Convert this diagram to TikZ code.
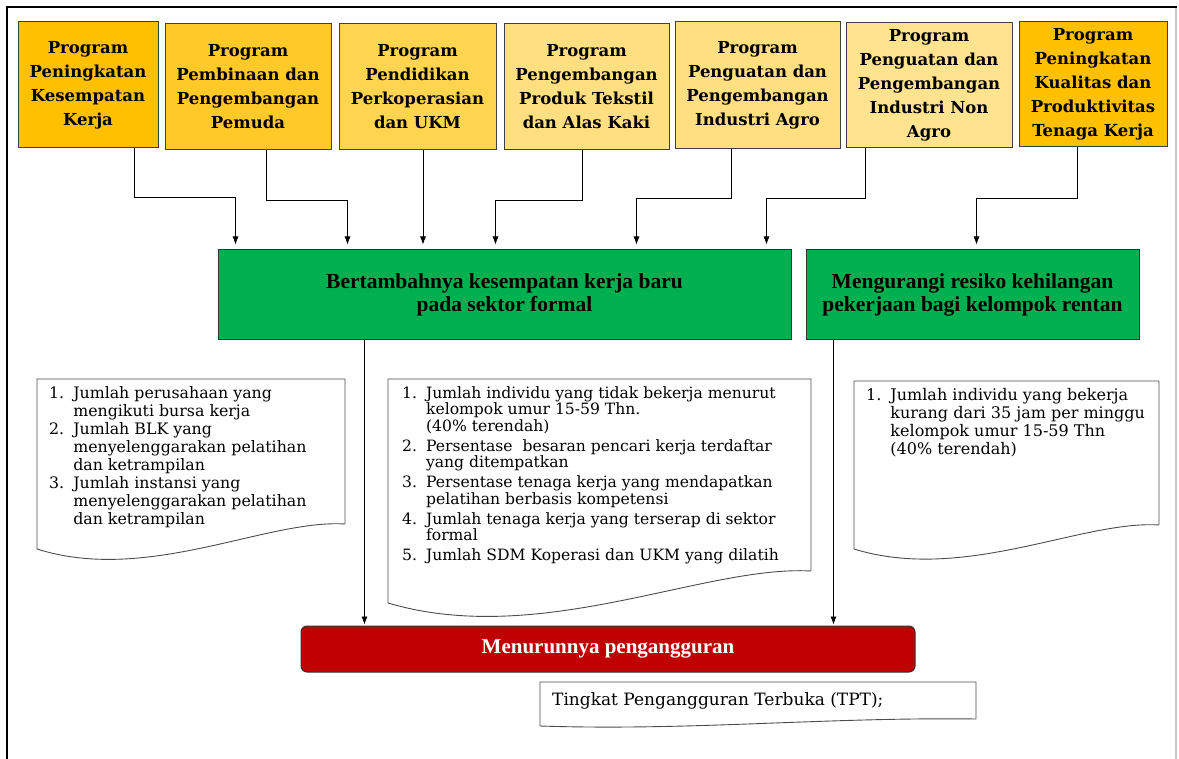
\documentclass[tikz,border=0pt]{standalone}
\usepackage{fontspec}
\setmainfont{DejaVu Serif}
\newfontfamily\goalfont{Liberation Serif}
\usetikzlibrary{arrows.meta,calc}
\definecolor{progA}{HTML}{FFC000}
\definecolor{progB}{HTML}{FFC928}
\definecolor{progC}{HTML}{FFD54F}
\definecolor{progD}{HTML}{FFDF80}
\definecolor{progE}{HTML}{FFE38E}
\definecolor{goalgreen}{HTML}{00B050}
\definecolor{outred}{HTML}{C00000}
\tikzset{
  prog/.style    = {draw=black!75, line width=1pt, align=center, inner sep=2pt,
                    font=\fontsize{16.5}{24}\selectfont\bfseries},
  goal/.style    = {draw=black!80, line width=1pt, fill=goalgreen, align=center,
                    font=\goalfont\fontsize{21.5}{23}\selectfont\bfseries},
  outcome/.style = {draw=black!80, line width=1pt, fill=outred, rounded corners=6pt,
                    text=white, font=\goalfont\fontsize{21}{23}\selectfont\bfseries},
  docbox/.style  = {inner sep=0pt, outer sep=0pt},
  docline/.style = {draw=black!70, line width=0.9pt},
  listtxt/.style = {inner sep=0pt, align=left, font=\fontsize{15.8}{18}\selectfont},
  arr/.style     = {-{Latex[length=8pt,width=6pt]}, line width=0.8pt}
}

\begin{document}
\begin{tikzpicture}[x=1pt, y=-1pt]
\useasboundingbox (0,0) rectangle (1179,759);
% ---- frame ----
\draw[gray!45, line width=2.5pt] (1176,7) -- (1176,759);
\draw[black, line width=1.6pt] (7,759) -- (7,7) -- (1177,7);

% ---- programmes ----
\node[prog, fill=progA, minimum width=140pt, minimum height=126pt] (pKerja) at (88,85)
  {Program\\ Peningkatan\\ Kesempatan\\ Kerja};
\node[prog, fill=progB, minimum width=166pt, minimum height=126pt] (pPemuda) at (248,87)
  {Program\\ Pembinaan dan\\ Pengembangan\\ Pemuda};
\node[prog, fill=progC, minimum width=157pt, minimum height=126pt] (pUKM) at (417.5,87)
  {Program\\ Pendidikan\\ Perkoperasian\\ dan UKM};
\node[prog, fill=progD, minimum width=165pt, minimum height=126pt] (pTekstil) at (586.5,87)
  {Program\\ Pengembangan\\ Produk Tekstil\\ dan Alas Kaki};
\node[prog, fill=progD, minimum width=165pt, minimum height=127pt] (pAgro) at (757.5,85.5)
  {Program\\ Penguatan dan\\ Pengembangan\\ Industri Agro};
\node[prog, fill=progE, minimum width=166pt, minimum height=125pt] (pNonAgro) at (929,85)
  {Program\\ Penguatan dan\\ Pengembangan\\ Industri Non\\ Agro};
\node[prog, fill=progA, minimum width=148pt, minimum height=125pt] (pTenaga) at (1093,84.5)
  {Program\\ Peningkatan\\ Kualitas dan\\ Produktivitas\\ Tenaga Kerja};

% ---- goals ----
\node[goal, minimum width=573pt, minimum height=90pt] (gFormal) at (504.5,295)
  {Bertambahnya kesempatan kerja baru\\ pada sektor formal};
\node[goal, minimum width=333pt, minimum height=90pt] (gRentan) at (972.5,295)
  {Mengurangi resiko kehilangan\\ pekerjaan bagi kelompok rentan};

% ---- outcome ----
\node[outcome, minimum width=614pt, minimum height=46pt] (oTPT) at (608,649)
  {Menurunnya pengangguran};

% ---- indicator sheets ----
\node[docbox, minimum width=308pt, minimum height=145pt] (indKerja) at (191,451.5) {};
\draw[docline] (indKerja.south east) -- (indKerja.north east) -- (indKerja.north west)
  -- ([yshift=-25pt]indKerja.south west) .. controls +(110,35) and +(-78,-5) .. (indKerja.south east);
\node[listtxt, anchor=north west] (txtKerja) at ([shift={(12,7)}]indKerja.north west)
  {\begin{tabular}{@{}l@{\hspace{9pt}}l@{}}
   1. & Jumlah perusahaan yang\\
      & mengikuti bursa kerja\\
   2. & Jumlah BLK yang\\
      & menyelenggarakan pelatihan\\
      & dan ketrampilan\\
   3. & Jumlah instansi yang\\
      & menyelenggarakan pelatihan\\
      & dan ketrampilan
   \end{tabular}};

\node[docbox, minimum width=423pt, minimum height=192pt] (indFormal) at (599.5,475) {};
\draw[docline] (indFormal.south east) -- (indFormal.north east) -- (indFormal.north west)
  -- ([yshift=-32pt]indFormal.south west) .. controls +(152,45) and +(-107,-6) .. (indFormal.south east);
\node[listtxt, anchor=north west, font=\fontsize{15.6}{15.6}\selectfont] (txtFormal)
  at ([shift={(14,7)}]indFormal.north west)
  {\begin{tabular}{@{}l@{\hspace{9pt}}l@{}}
   1. & Jumlah individu yang tidak bekerja menurut\\
      & kelompok umur 15-59 Thn.\\
      & (40\% terendah)\\[3.5pt]
   2. & Persentase\ \ besaran pencari kerja terdaftar\\
      & yang ditempatkan\\[3.5pt]
   3. & Persentase tenaga kerja yang mendapatkan\\
      & pelatihan berbasis kompetensi\\[3.5pt]
   4. & Jumlah tenaga kerja yang terserap di sektor\\
      & formal\\[3.5pt]
   5. & Jumlah SDM Koperasi dan UKM yang dilatih
   \end{tabular}};

\node[docbox, minimum width=305pt, minimum height=144pt] (indRentan) at (1006.5,453) {};
\draw[docline] (indRentan.south east) -- (indRentan.north east) -- (indRentan.north west)
  -- ([yshift=-24pt]indRentan.south west) .. controls +(110,34) and +(-77,-5) .. (indRentan.south east);
\node[listtxt, anchor=north west, font=\fontsize{16}{18}\selectfont] (txtRentan)
  at ([shift={(12,7)}]indRentan.north west)
  {\begin{tabular}{@{}l@{\hspace{9pt}}l@{}}
   1. & Jumlah individu yang bekerja\\
      & kurang dari 35 jam per minggu\\
      & kelompok umur 15-59 Thn\\
      & (40\% terendah)
   \end{tabular}};

\node[docbox, minimum width=436pt, minimum height=37pt] (indTPT) at (758,700.5) {};
\draw[docline] (indTPT.south east) -- (indTPT.north east) -- (indTPT.north west)
  -- ([yshift=-7pt]indTPT.south west) .. controls +(150,5) and +(-150,-2) .. (indTPT.south east);
\node[listtxt, anchor=west, font=\fontsize{17}{18}\selectfont] (txtTPT)
  at ([xshift=12pt]indTPT.west) {Tingkat Pengangguran Terbuka (TPT);};

% ---- programmes into goals ----
\draw[arr, shorten >=5pt] ([xshift=46pt]pKerja.south) -- ++(0,49) -| ([xshift=18pt]gFormal.north west);
\draw[arr, shorten >=5pt] ([xshift=18pt]pPemuda.south) -- ++(0,50) -| ([xshift=130pt]gFormal.north west);
\draw[arr, shorten >=5pt] ([xshift=5.5pt]pUKM.south) -- ([xshift=5.5pt]pUKM.south |- gFormal.north);
\draw[arr, shorten >=5pt] ([xshift=-4.5pt]pTekstil.south) -- ++(0,50) -| ([xshift=278pt]gFormal.north west);
\draw[arr, shorten >=5pt] ([xshift=-26.5pt]pAgro.south) -- ++(0,49) -| ([xshift=419pt]gFormal.north west);
\draw[arr, shorten >=5pt] ([xshift=-64pt]pNonAgro.south) -- ++(0,50.5) -| ([xshift=549pt]gFormal.north west);
\draw[arr, shorten >=5pt] ([xshift=-16pt]pTenaga.south) -- ++(0,51) -| ([xshift=171pt]gRentan.north west);

% ---- goals into outcome ----
\draw[arr, shorten >=1pt] ([xshift=147pt]gFormal.south west) -- ([xshift=147pt]gFormal.south west |- oTPT.north);
\draw[arr, shorten >=1pt] ([xshift=28pt]gRentan.south west) -- ([xshift=28pt]gRentan.south west |- oTPT.north);
\end{tikzpicture}
\end{document}
